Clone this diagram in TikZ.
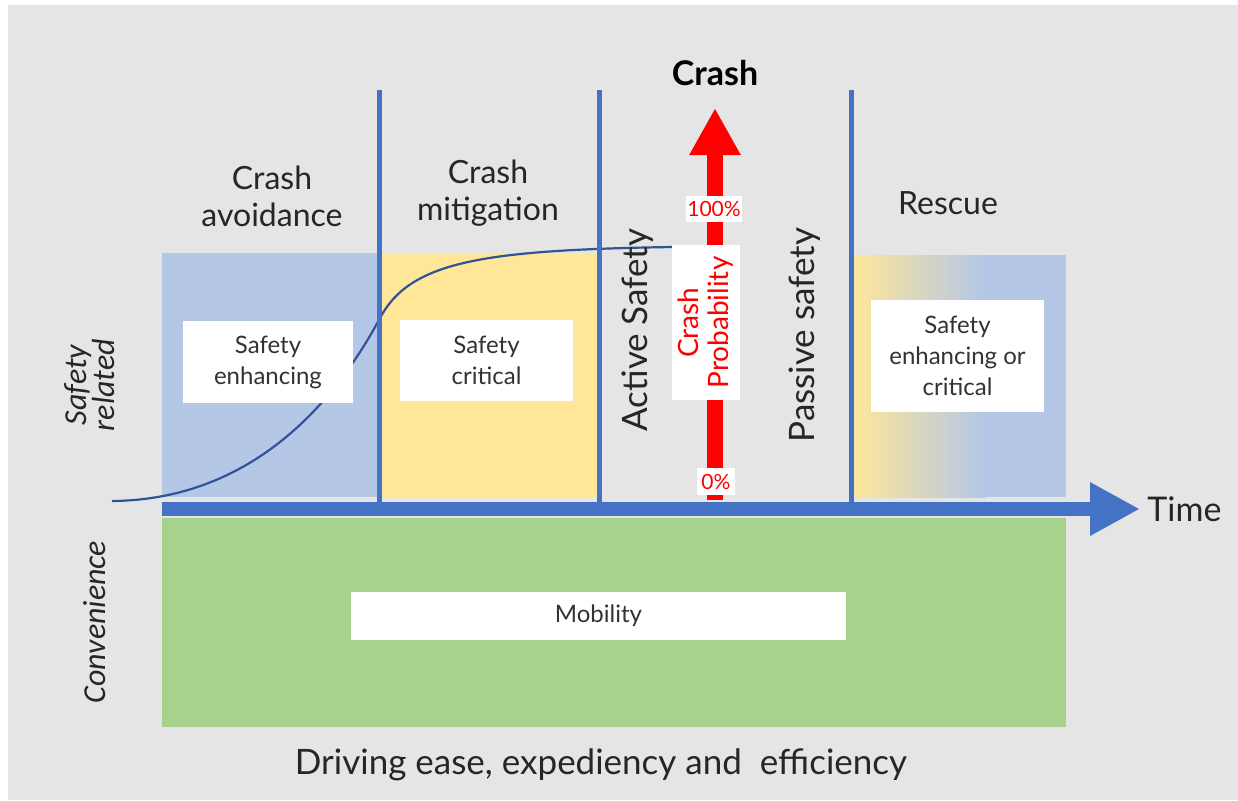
\documentclass[tikz,border=0pt]{standalone}
\usepackage{fontspec}
\setmainfont{Lato}
\newfontfamily\sidefont{Carlito}
\usepackage{tikz}
\usetikzlibrary{arrows.meta,positioning}
\definecolor{bggray}{RGB}{229,229,229}
\definecolor{axisblue}{RGB}{68,114,196}
\definecolor{curveblue}{RGB}{47,85,151}
\definecolor{zoneblue}{RGB}{180,199,231}
\definecolor{zoneyellow}{RGB}{255,230,153}
\definecolor{zonegreen}{RGB}{169,209,142}
\definecolor{crashred}{RGB}{255,0,0}

\begin{document}
\begin{tikzpicture}[x=0.5pt, y=-0.5pt,
    phase/.style={align=center, text=black!85, font=\fontsize{16}{18.5}\selectfont},
    whitebox/.style={fill=white, align=center, inner sep=0pt, text=black!80, font=\fontsize{12}{15.5}\selectfont},
    redbox/.style={fill=white, align=center, inner sep=0pt, text=crashred, font=\fontsize{10.5}{11}\selectfont},
    divider/.style={draw=axisblue, line width=2.5pt},
    sidelabel/.style={align=center, rotate=90, text=black!85, font=\sidefont\itshape\fontsize{16}{14}\selectfont}]
\useasboundingbox (0,0) rectangle (1238,800);
\fill[bggray] (8,5) rectangle (1238,800);

% Zones
\fill[zoneblue] (162,253) rectangle (379,497);
\fill[zoneyellow] (379,253) rectangle (599,497);
\shade[left color=zoneyellow, right color=zoneblue] (852,255) rectangle (985,497);
\fill[zoneblue] (984,255) rectangle (1066,497);
\fill[zonegreen] (162,518) rectangle (1066,727);

% Crash probability curve
\draw[curveblue, line width=1.1pt] (112,501) .. controls (230,500) and (320,430) .. (380,318)
    .. controls (410,262) and (480,250) .. (672,247);

% Dividers
\coordinate (d1top) at (379,90);  \coordinate (d1bot) at (379,503);
\coordinate (d2top) at (599,90);  \coordinate (d2bot) at (599,503);
\coordinate (d3top) at (851,90);  \coordinate (d3bot) at (851,503);
\draw[divider] (d1top) -- (d1bot);
\draw[divider] (d2top) -- (d2bot);
\draw[divider] (d3top) -- (d3bot);

% Time axis
\coordinate (tstart) at (162,509);
\coordinate (tend) at (1140,509);
\draw[axisblue, line width=7pt, -{Triangle[length=25pt, width=25pt]}] (tstart) -- (tend);
\node[right, font=\fontsize{17}{18}\selectfont, text=black!85, inner sep=1pt] (time) at (1145,509) {Time};

% Crash arrow
\coordinate (cbot) at (715,500);
\coordinate (ctop) at (715,108);
\draw[crashred, line width=8pt, -{Triangle[length=23.5pt, width=24pt]}] (cbot) -- (ctop);
\node[font=\bfseries\fontsize{17}{18}\selectfont] (crash) at (715,73) {Crash};
\node[redbox, minimum width=28pt, minimum height=13pt] (full) at (714,209) {100\%};
\node[redbox, minimum width=19pt, minimum height=13.5pt] (none) at (716,481.5) {0\%};
\node[fill=white, rotate=90, align=center, inner sep=0pt, text=crashred,
      minimum width=77.5pt, minimum height=34pt, font=\fontsize{14}{15}\selectfont]
      (prob) at (706,322.5) {Crash\\Probability};

% Phase labels
\node[phase] (avoid) at (272,196) {Crash\\avoidance};
\node[phase] (mitig) at (488,193) {Crash\\mitigation};
\node[phase] (rescue) at (948,203) {Rescue};
\node[phase, rotate=90, font=\fontsize{17.5}{19}\selectfont] (active) at (638,330) {Active Safety};
\node[phase, rotate=90, font=\fontsize{17.5}{19}\selectfont] (passive) at (805,335) {Passive safety};

% Boxes
\node[whitebox, minimum width=85pt, minimum height=41pt] (enh) at (268,362) {Safety\\enhancing};
\node[whitebox, minimum width=86.5pt, minimum height=40.5pt] (crit) at (486.5,360.5) {Safety\\critical};
\node[whitebox, minimum width=86.5pt, minimum height=56pt] (either) at (957.5,356) {Safety\\enhancing or\\critical};
\node[whitebox, minimum width=247.5pt, minimum height=24pt] (mob) at (598.5,616) {Mobility};

% Side and bottom labels
\node[sidelabel] (safe) at (90,385) {Safety\\related};
\node[sidelabel] (conv) at (95,622) {Convenience};
\node[font=\fontsize{17.5}{19}\selectfont, text=black!85] (drive) at (601,765) {Driving ease, expediency and\ \ efficiency};
\end{tikzpicture}
\end{document}
